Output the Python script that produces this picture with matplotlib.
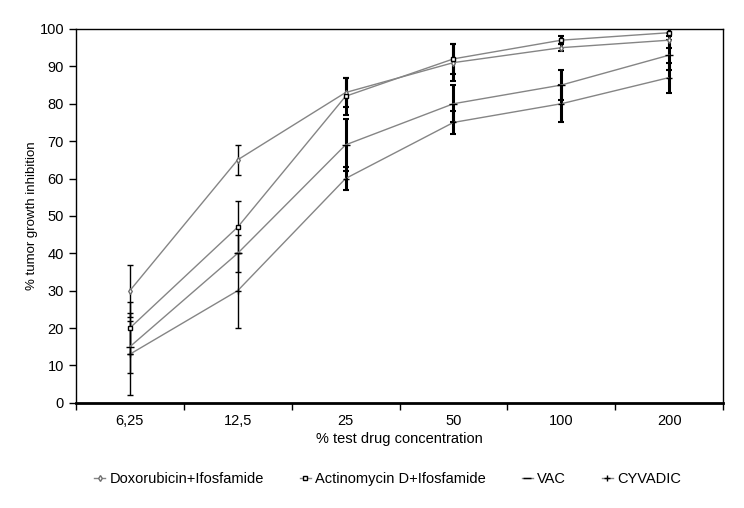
import matplotlib
matplotlib.use("Agg")
import matplotlib.pyplot as plt
import numpy as np

plt.rcParams['font.family'] = ['Liberation Sans', 'DejaVu Sans']

concentrations = ['6,25', '12,5', '25', '50', '100', '200']

doxo = [30, 65, 83, 91, 95, 97]
doxo_err = [7, 4, 4, 5, 1, 2]
actino = [20, 47, 82, 92, 97, 99]
actino_err = [7, 7, 5, 4, 1, 1]
vac = [15, 40, 69, 80, 85, 93]
vac_err = [7, 5, 7, 5, 4, 4]
cyvadic = [13, 30, 60, 75, 80, 87]
cyvadic_err = [11, 10, 3, 3, 5, 4]

series = [
    ('Doxorubicin+Ifosfamide', doxo, doxo_err, dict(marker='d', ms=3, mfc='white', mec='#707070')),
    ('Actinomycin D+Ifosfamide', actino, actino_err, dict(marker='s', ms=3.5, mfc='white', mec='black', mew=1)),
    ('VAC', vac, vac_err, dict(marker='_', ms=6, mec='black', mew=1)),
    ('CYVADIC', cyvadic, cyvadic_err, dict(marker='+', ms=4, mec='black', mew=1)),
]

fig = plt.figure(figsize=(7.44, 5.08), dpi=100)
ax = fig.add_axes([0.102, 0.207, 0.870, 0.736])

x = np.arange(len(concentrations))
for name, vals, err, style in series:
    vals = np.array(vals)
    err = np.array(err)
    # thin bars at low concentrations, heavier ones afterwards (as in source)
    ax.errorbar(x[:2], vals[:2], yerr=err[:2], fmt='none', ecolor='black',
                elinewidth=1, capsize=2, capthick=1, zorder=3)
    ax.errorbar(x[2:], vals[2:], yerr=err[2:], fmt='none', ecolor='black',
                elinewidth=2.2, capsize=2, capthick=1.5, zorder=3)
    ax.plot(x, vals, color='#858585', lw=1, label=name, zorder=4, **style)

ax.set_xlim(-0.5, 5.5)
ax.set_ylim(0, 100)
ax.set_yticks(range(0, 101, 10))
ax.set_xticks(x)
ax.set_xticklabels(concentrations)
ax.set_xticks(np.arange(-0.5, 6.0, 1), minor=True)
ax.tick_params(axis='x', which='major', length=0, pad=8, labelsize=10.5)
ax.tick_params(axis='x', which='minor', length=5, width=1, direction='out')
ax.tick_params(axis='y', length=5, width=1, direction='out', labelsize=10.5)

for s in ['top', 'right', 'left']:
    ax.spines[s].set_linewidth(1)
ax.spines['bottom'].set_linewidth(2)

ax.set_ylabel('% tumor growth inhibition', fontsize=9.5, labelpad=1)
ax.set_xlabel('% test drug concentration', fontsize=10.5, labelpad=3)

fig.legend(loc='center', bbox_to_anchor=(0.521, 0.057), ncol=4, frameon=False,
           fontsize=10.5, handlelength=0.75, handletextpad=0.3, columnspacing=2.45)

fig.savefig('out.png', dpi=100)
